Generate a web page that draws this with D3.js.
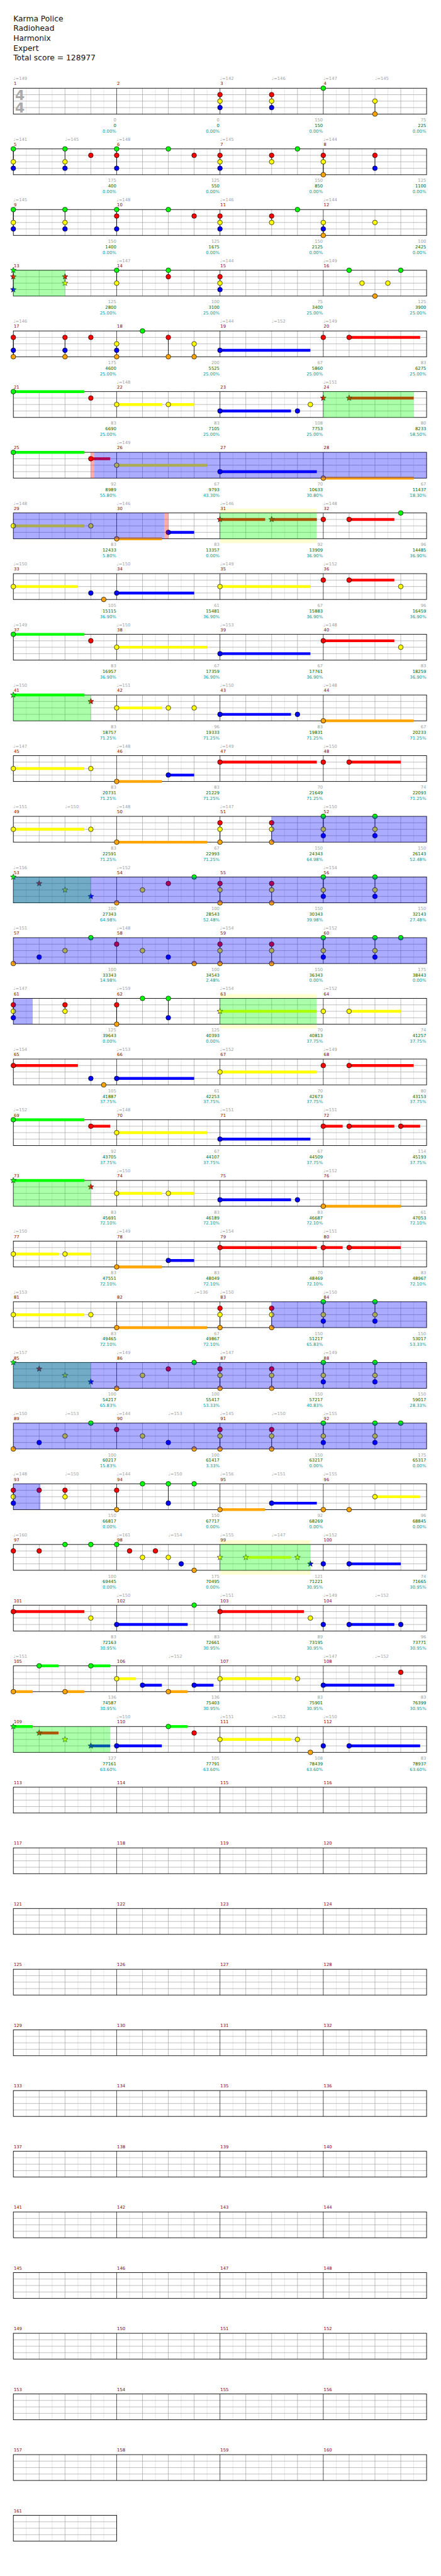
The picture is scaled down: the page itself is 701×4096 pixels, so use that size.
<!DOCTYPE html>
<html><head><meta charset="utf-8">
<script src="https://cdn.jsdelivr.net/npm/d3@7"></script>
<style>body{margin:0;background:#fff}svg{display:block}</style>
</head><body>
<script>
const titleLines = ["Karma Police","Radiohead","Harmonix","Expert","Total score = 128977"];

// tempo marks: [measure, beat, bpm]
const tempos = [
[1,0,149],[3,0,142],[3,2,146],[4,0,147],[4,2,145],
[5,0,141],[5,2,145],[6,0,148],[7,0,145],[8,0,144],
[9,0,145],[10,0,148],[11,0,146],[12,0,144],
[14,0,147],[15,0,144],[16,0,149],
[17,0,146],[19,0,144],[19,2,152],[20,0,149],
[22,0,148],[24,0,151],[26,0,149],
[29,0,148],[30,0,146],[31,0,146],[32,0,148],
[33,0,150],[34,0,150],[35,0,149],[36,0,152],
[37,0,149],[38,0,150],[39,0,153],[40,0,148],
[41,0,150],[42,0,151],[43,0,150],[44,0,148],
[45,0,147],[46,0,148],[47,0,149],[48,0,150],
[49,0,151],[49,2,150],[50,0,148],[51,0,147],[52,0,150],
[53,0,156],[54,0,152],[56,0,154],
[57,0,151],[58,0,148],[59,0,154],[60,0,152],
[61,0,147],[62,0,159],[63,0,154],[64,0,152],
[65,0,154],[66,0,153],[67,0,152],[68,0,149],
[69,0,152],[70,0,148],[71,0,151],[72,0,151],
[74,0,150],[76,0,152],
[77,0,150],[78,0,149],[79,0,154],[80,0,151],
[81,0,153],[82,3,136],[83,0,150],[84,0,150],
[85,0,157],[86,0,149],[87,0,147],[88,0,149],
[89,0,150],[89,2,153],[90,0,144],[90,2,153],[91,0,145],[91,2,150],[92,0,155],
[93,0,148],[93,2,150],[94,0,144],[94,2,150],[95,0,156],[95,2,151],[96,0,155],
[97,0,160],[98,0,161],[98,2,154],[99,0,155],[99,2,147],[100,0,152],
[102,0,150],[103,0,151],[104,0,149],[104,2,152],
[105,0,151],[106,2,152],[108,0,147],[108,2,152],
[110,0,150],[111,0,151],[111,2,152],[112,0,150]
];

// notes: [measure, beat, lanes, sustain beats, star]
const notes = [
[3,0,"RYB"],[3,2,"RYB"],[4,0,"G"],[4,2,"YO"],
[5,0,"GYB"],[5,2,"GYB"],[5,3,"R"],[6,0,"GRB"],[6,2,"G"],[6,3,"R"],
[7,0,"RYB"],[7,2,"RY"],[7,3,"G"],[8,0,"RYO"],[8,2,"RB"],
[9,0,"GYB"],[9,2,"GYB"],[10,0,"GRB"],[10,2,"G"],[10,3,"R"],
[11,0,"RYB"],[11,2,"RY"],[11,3,"G"],[12,0,"YBO"],[12,2,"Y"],
[13,0,"GRB",0,1],[13,2,"RY",0,1],[14,0,"GY"],[14,2,"GR"],[15,0,"RYB"],
[16,1,"G"],[16,1.5,"Y"],[16,2,"O"],[16,2.5,"Y"],[16,3,"G"],
[17,0,"RBO"],[17,2,"RBO"],[17,3,"R"],[18,0,"YBO"],[18,1,"G"],[18,2,"RO"],[18,3,"YO"],
[19,0,"B",3.5],[20,0,"R"],[20,1,"R",2.75],
[21,0,"G",2.75],[21,3,"R"],[22,0,"Y",1.75],[22,2,"Y",1],
[23,0,"B",2.75],[23,3,"B"],[23,3.5,"Y"],[24,0,"R",0,1],[24,1,"R",2.5,1],
[25,0,"G",2.75],[25,3,"R",0.75],[26,0,"Y",3.5],[27,0,"B",3.75],[28,0,"O",3.5],
[29,0,"Y",2.75],[29,3,"Y"],[30,0,"O",1.75],[30,2,"B",1],
[31,0,"R",1.75,1],[31,2,"R",1.75,1],[32,0,"R"],[32,1,"R",1.75],[32,3,"G"],
[33,0,"Y",2.5],[33,3,"B"],[33,3.5,"O"],[34,0,"B",3],[35,0,"Y",3.5],
[36,0,"R"],[36,1,"R",1.75],[36,3,"Y"],
[37,0,"G",2.75],[37,3,"R"],[38,0,"Y",3.5],[39,0,"B",3.5],[40,0,"R",2.75],[40,3,"Y"],
[41,0,"G",2.75,1],[41,3,"R",0,1],[42,0,"Y",1.75],[42,2,"Y"],[42,3,"Y"],
[43,0,"B",2.75],[43,3,"B"],[44,0,"O",3.5],
[45,0,"Y",2.75],[45,3,"Y"],[46,0,"O",1.75],[46,2,"B",1],[47,0,"R",3.75],[48,0,"R"],[48,1,"R",2],
[49,0,"Y",2.75],[49,3,"Y"],[50,0,"O",3.5],[51,0,"RYO"],[51,2,"RYO"],[52,0,"GYB"],[52,2,"GYB"],
[53,0,"G",0,1],[53,1,"R",0,1],[53,2,"Y",0,1],[53,3,"B",0,1],
[54,0,"O"],[54,1,"Y"],[54,2,"R"],[54,3,"G"],[55,0,"RYO"],[55,2,"RYO"],[56,0,"GYB"],[56,2,"GYB"],
[57,0,"O"],[57,1,"B"],[57,2,"Y"],[57,3,"G"],[58,0,"R"],[58,1,"Y"],[58,2,"B"],[58,3,"O"],
[59,0,"RYO"],[59,2,"RYO"],[60,0,"GYB"],[60,2,"GYB"],[60,3,"G"],
[61,0,"RYB"],[61,2,"RY"],[62,0,"RO"],[62,1,"G"],[62,2,"GB"],[63,0,"Y",3.75,1],[64,0,"Y"],[64,1,"Y",2],
[65,0,"R",2.5],[65,3,"B"],[65,3.5,"O"],[66,0,"B",3],[67,0,"Y",3.75],[68,0,"R"],[68,1,"R",2.5],
[69,0,"G",2.75],[69,3,"R",0.75],[70,0,"Y",3.5],[71,0,"B",3.5],[72,0,"R",0.75],[72,1,"R",1.75],[72,3,"R",0.75],
[73,0,"G",2.75,1],[73,3,"R",0,1],[74,0,"Y",1.75],[74,2,"Y",1],[75,0,"B",2.75],[75,3,"B"],[76,0,"O",3],
[77,0,"Y",1.75],[77,2,"Y",1],[78,0,"O",1.75],[78,2,"B",1],[79,0,"R",3.75],[80,0,"R",0.75],[80,1,"R",2],
[81,0,"Y",2.75],[81,3,"Y"],[82,0,"O",3.5],[83,0,"RYO"],[83,2,"RYO"],[84,0,"GYB"],[84,2,"GYB"],
[85,0,"G",0,1],[85,1,"R",0,1],[85,2,"Y",0,1],[85,3,"B",0,1],
[86,0,"O"],[86,1,"Y"],[86,2,"R"],[86,3,"G"],[87,0,"RYO"],[87,2,"RYO"],[88,0,"GYB"],[88,2,"GYB"],
[89,0,"O"],[89,1,"B"],[89,2,"Y"],[89,3,"G"],[90,0,"R"],[90,1,"Y"],[90,2,"B"],[90,3,"O"],
[91,0,"RYO"],[91,2,"RYO"],[92,0,"GYB"],[92,2,"GYB"],[92,3,"G"],
[93,0,"RYB"],[93,1,"R"],[93,2,"RY"],[94,0,"RO"],[94,1,"G"],[94,2,"GB"],[94,3,"G"],
[95,0,"O",1.75],[95,2,"B",1.75],[96,0,"O"],[96,1,"O"],[96,2,"Y",1.75],
[97,0,"R"],[97,1,"R"],[97,2,"G"],[97,3,"G"],
[98,0,"G"],[98,0.5,"R"],[98,1,"Y"],[98,1.5,"R"],[98,2,"Y"],[98,2.5,"B"],[98,3,"O"],
[99,0,"Y",0,1],[99,1,"Y",1.75,1],[99,3,"Y",0,1],[99,3.5,"B",0,1],[100,0,"B"],[100,1,"B",2],
[101,0,"R",2.75],[101,3,"Y"],[102,0,"B",2.75],[102,3,"G"],[103,0,"R",3.25],[103,3.5,"Y"],
[104,0,"B"],[104,1,"B",1.75],[104,3,"B"],
[105,0,"O",0.75],[105,1,"G",0.75],[105,2,"O",0.75],[105,3,"G",0.75],
[106,0,"Y",0.75],[106,1,"B",0.75],[106,2,"O",0.75],[106,3,"B",0.75],
[107,0,"Y",2.75],[107,3,"Y"],[108,0,"B",2.75],[108,3,"R"],
[109,0,"G",0.75,1],[109,1,"R",0.75,1],[109,2,"Y",0,1],[109,3,"B",0.75,1],
[110,0,"B",1.75],[110,2,"G",0.75],[110,3,"R"],[111,0,"Y",2.75],[111,3,"Y"],[111,3.5,"O"],
[112,0,"B"],[112,1,"B",2.75]
];

// per-measure texts (index = measure-1)
const measureScore = [0,0,150,75,175,125,150,125,150,125,150,100,125,100,75,125,
175,200,67,83,83,83,108,80,92,67,70,67,83,83,92,96,
105,61,67,96,83,67,67,83,83,96,83,67,83,83,70,74,
83,67,150,150,100,100,150,150,100,100,150,175,125,125,70,74,
105,61,70,80,92,67,67,114,83,83,83,61,83,83,70,83,
83,67,150,150,100,100,150,150,100,100,150,175,150,150,92,96,
100,175,121,74,83,83,89,96,136,136,83,83,127,105,108,83];
const totalScore = [0,0,150,225,400,550,850,1100,1400,1675,2125,2425,2800,3100,3400,3900,
4600,5525,5860,6275,6690,7105,7753,8233,8989,9793,10633,11437,12433,13357,13909,14485,
15115,15481,15883,16459,16957,17359,17761,18259,18757,19333,19831,20233,20731,21229,21649,22093,
22591,22993,24343,26143,27343,28543,30343,32143,33343,34543,36343,38443,39643,40393,40813,41257,
41887,42253,42673,43153,43705,44107,44509,45193,45691,46189,46687,47053,47551,48049,48469,48967,
49465,49867,51217,53017,54217,55417,57217,59017,60217,61417,63217,65317,66817,67717,68269,68845,
69445,70495,71221,71665,72163,72661,73195,73771,74587,75403,75901,76399,77161,77791,78439,78937];
const spMeter = [0,0,0,0,0,0,0,0,0,0,0,0,25,25,25,25,
25,25,25,25,25,25,25,58.5,55.8,43.3,30.8,18.3,5.8,0,36.9,36.9,
36.9,36.9,36.9,36.9,36.9,36.9,36.9,36.9,71.25,71.25,71.25,71.25,71.25,71.25,71.25,71.25,
71.25,71.25,64.98,52.48,64.98,52.48,39.98,27.48,14.98,2.48,0,0,0,0,37.75,37.75,
37.75,37.75,37.75,37.75,37.75,37.75,37.75,37.75,72.1,72.1,72.1,72.1,72.1,72.1,72.1,72.1,
72.1,72.1,65.83,53.33,65.83,53.33,40.83,28.33,15.83,3.33,0,0,0,0,0,0,
0,0,30.95,30.95,30.95,30.95,30.95,30.95,30.95,30.95,30.95,30.95,63.6,63.6,63.6,63.6];

// shaded spans: [m0, b0, m1, b1]
const starPhrases = [[13,0,13,2],[24,0,24,3.5],[31,0,31,3.75],[41,0,41,3],[53,0,53,3],[63,0,63,3.75],
[73,0,73,3],[85,0,85,3],[99,0,99,3.5],[109,0,109,3.75]];
const phraseBands = [[31,0,31,3.75],[63,0,63,3.75],[99,0,99,3.5]];
const activations = [[25,3.125,30,1.85],[51,2,61,0.75],[83,2,93,1.05]];
const activationMarks = [[25,3,25,3.125],[30,1.85,30,2]];

const NMEAS = 161;
const X0 = 31, MW = 240, T0 = 205, RH = 141, SH = 60;
const LANES = "GRYBO";
const laneColor = {G:"#00ff00",R:"#ff0000",Y:"#ffff00",B:"#0000ff",O:"#ffa500"};
const FONT = "DejaVu Sans, Verdana, sans-serif";

const svg = d3.select("body").append("svg")
  .attr("width",701).attr("height",4096).attr("viewBox","0 0 1024 5986")
  .attr("preserveAspectRatio","xMinYMin meet");
svg.append("rect").attr("width",1024).attr("height",5986).attr("fill","#fff");

const x = d3.scaleLinear().domain([0,16]).range([X0, X0 + 4*MW]);
const ly = d3.scaleLinear().domain([0,4]).range([0,SH]);
const absB = (m,b) => (m-1)*4 + b;
const rowTop = r => T0 + r*RH;
const nRows = Math.ceil(NMEAS/4);
function segs(a0,a1){
  const out=[]; let a=a0;
  while(a < a1-1e-9){
    const r = Math.floor((a+1e-9)/16);
    const e = Math.min(a1,(r+1)*16);
    out.push({r, b0:a-r*16, b1:e-r*16});
    a = e;
  }
  return out;
}
const spanSegs = arr => arr.flatMap(s => segs(absB(s[0],s[1]), absB(s[2],s[3])));

// header
svg.append("g").selectAll("text").data(titleLines).join("text")
  .attr("x",31).attr("y",(d,i)=>49+i*23)
  .attr("font-family",FONT).attr("font-size",18).attr("fill","#111").text(d=>d);

// pale phrase bands (behind staff)
svg.append("g").selectAll("rect").data(spanSegs(phraseBands)).join("rect")
  .attr("x",d=>x(d.b0)).attr("width",d=>x(d.b1)-x(d.b0))
  .attr("y",d=>rowTop(d.r)-10).attr("height",SH+20).attr("fill","#ffffd0");

// rows
const rows = svg.append("g").selectAll("g.row").data(d3.range(nRows)).join("g")
  .attr("class","row").attr("transform",r=>`translate(0,${rowTop(r)})`);

rows.each(function(r){
  const g = d3.select(this);
  const nm = Math.min(4, NMEAS - r*4);
  const beats = nm*4;
  const minor = d3.range(0,beats,0.5).filter(b=>b%1!==0);
  const major = d3.range(1,beats).filter(b=>b%4!==0);
  g.append("rect").attr("x",x(0)).attr("y",0).attr("width",x(beats)-x(0)).attr("height",SH).attr("fill","#fff");
  g.selectAll("line.minor").data(minor).join("line").attr("class","minor")
    .attr("x1",d=>x(d)).attr("x2",d=>x(d)).attr("y1",0).attr("y2",SH).attr("stroke","#dcdcdc").attr("stroke-width",1);
  g.selectAll("line.major").data(major).join("line").attr("class","major")
    .attr("x1",d=>x(d)).attr("x2",d=>x(d)).attr("y1",0).attr("y2",SH).attr("stroke","#a0a0a0").attr("stroke-width",1);
  g.selectAll("line.lane").data([1,2,3]).join("line").attr("class","lane")
    .attr("x1",x(0)).attr("x2",x(beats)).attr("y1",d=>ly(d)).attr("y2",d=>ly(d)).attr("stroke","#a0a0a0").attr("stroke-width",1);
  g.selectAll("line.bar").data(d3.range(1,nm)).join("line").attr("class","bar")
    .attr("x1",d=>x(d*4)).attr("x2",d=>x(d*4)).attr("y1",0).attr("y2",SH).attr("stroke","#000").attr("stroke-width",1);
  g.append("rect").attr("x",x(0)).attr("y",0).attr("width",x(beats)-x(0)).attr("height",SH)
    .attr("fill","none").attr("stroke","#000").attr("stroke-width",1.3);
  // measure numbers
  const ms = d3.range(nm).map(i=>r*4+i+1);
  g.selectAll("text.mnum").data(ms).join("text").attr("class","mnum")
    .attr("x",(d,i)=>x(i*4)+1).attr("y",-7).attr("font-family",FONT).attr("font-size",10)
    .attr("fill","#8b0000").text(d=>d);
  // measure-end texts
  const fmtP = d3.format(".2f");
  const ends = ms.map((m,i)=>({m,i})).filter(d=>totalScore[d.m-1]!==undefined);
  const lbl = g.selectAll("g.lbl").data(ends).join("g").attr("class","lbl")
    .attr("transform",d=>`translate(${x(d.i*4+4)-1},0)`)
    .attr("font-family",FONT).attr("font-size",10).attr("text-anchor","end");
  lbl.append("text").attr("y",SH+17).attr("fill","#a0a0a0").text(d=>measureScore[d.m-1]);
  lbl.append("text").attr("y",SH+30).attr("fill","#006400").text(d=>totalScore[d.m-1]);
  lbl.append("text").attr("y",SH+43).attr("fill","#009999").text(d=>fmtP(spMeter[d.m-1])+"%");
});

// tempo marks
svg.append("g").selectAll("text").data(tempos).join("text")
  .attr("x",d=>x(absB(d[0],d[1])%16)).attr("y",d=>rowTop(Math.floor(absB(d[0],d[1])/16))-19)
  .attr("font-family",FONT).attr("font-size",10).attr("fill","#a0a0a0")
  .text(d=>"\u2669="+d[2]);

// time signature
svg.append("g").selectAll("text").data(["4","4"]).join("text")
  .attr("x",35).attr("y",(d,i)=>233+i*29).attr("font-family",FONT).attr("font-size",32)
  .attr("font-weight","bold").attr("fill","#aaaaaa").text(d=>d);

// expand notes
const heads = [];
const sus = [];
const chords = [];
notes.forEach(n=>{
  const [m,b,lanes,len=0,star=0] = n;
  const a = absB(m,b);
  const r = Math.floor(a/16), bb = a - r*16;
  const idx = lanes.split("").map(c=>LANES.indexOf(c));
  if(idx.length>1) chords.push({r,bb,l0:d3.min(idx),l1:d3.max(idx)});
  lanes.split("").forEach(c=>{
    heads.push({r,bb,lane:LANES.indexOf(c),c,star});
    if(len>0) segs(a,a+len).forEach(s=>sus.push({...s,lane:LANES.indexOf(c),c}));
  });
});

const ng = svg.append("g");
ng.selectAll("line.sus").data(sus).join("line").attr("class","sus")
  .attr("x1",d=>x(d.b0)).attr("x2",d=>x(d.b1))
  .attr("y1",d=>rowTop(d.r)+ly(d.lane)).attr("y2",d=>rowTop(d.r)+ly(d.lane))
  .attr("stroke",d=>laneColor[d.c]).attr("stroke-width",6.5);
ng.selectAll("line.chord").data(chords).join("line").attr("class","chord")
  .attr("x1",d=>x(d.bb)).attr("x2",d=>x(d.bb))
  .attr("y1",d=>rowTop(d.r)+ly(d.l0)).attr("y2",d=>rowTop(d.r)+ly(d.l1))
  .attr("stroke","#000").attr("stroke-width",1.2);
function starPath(R,r){
  const pts=[];
  for(let i=0;i<10;i++){const ang=-Math.PI/2+i*Math.PI/5;const rr=i%2?r:R;pts.push([rr*Math.cos(ang),rr*Math.sin(ang)]);}
  return "M"+pts.map(p=>p.join(",")).join("L")+"Z";
}
ng.selectAll("circle.head").data(heads.filter(d=>!d.star)).join("circle").attr("class","head")
  .attr("cx",d=>x(d.bb)).attr("cy",d=>rowTop(d.r)+ly(d.lane)).attr("r",5.5)
  .attr("fill",d=>laneColor[d.c]).attr("stroke","#000").attr("stroke-width",1);
ng.selectAll("path.star").data(heads.filter(d=>d.star)).join("path").attr("class","star")
  .attr("transform",d=>`translate(${x(d.bb)},${rowTop(d.r)+ly(d.lane)})`)
  .attr("d",starPath(7,3)).attr("fill",d=>laneColor[d.c]).attr("stroke","#000").attr("stroke-width",0.8);

// overlays
svg.append("g").selectAll("rect").data(spanSegs(starPhrases)).join("rect")
  .attr("x",d=>x(d.b0)).attr("width",d=>x(d.b1)-x(d.b0))
  .attr("y",d=>rowTop(d.r)).attr("height",SH).attr("fill","#00ff00").attr("fill-opacity",0.33);
svg.append("g").selectAll("rect").data(spanSegs(activations)).join("rect")
  .attr("x",d=>x(d.b0)).attr("width",d=>x(d.b1)-x(d.b0))
  .attr("y",d=>rowTop(d.r)).attr("height",SH).attr("fill","#0000ff").attr("fill-opacity",0.33);
svg.append("g").selectAll("rect").data(spanSegs(activationMarks)).join("rect")
  .attr("x",d=>x(d.b0)).attr("width",d=>x(d.b1)-x(d.b0))
  .attr("y",d=>rowTop(d.r)).attr("height",SH).attr("fill","#ff0000").attr("fill-opacity",0.33);
</script>
</body></html>
